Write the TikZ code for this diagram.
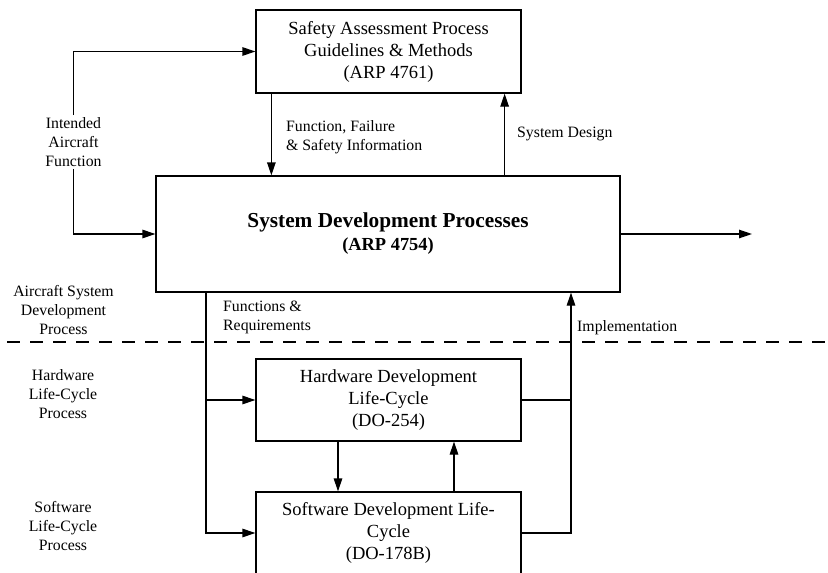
\documentclass[tikz,border=0pt]{standalone}
\usepackage{fontspec}
\setmainfont{Liberation Serif}
\usetikzlibrary{arrows.meta,calc}
\begin{document}
\begin{tikzpicture}[x=1pt,y=-1pt,
  box/.style={draw, line width=1.25pt, align=center, inner sep=0pt,
    font=\fontsize{18.5}{22}\selectfont},
  lbl/.style={align=center, inner sep=2pt, font=\fontsize{15.8}{19}\selectfont},
  llbl/.style={align=left, anchor=west, inner sep=0pt, font=\fontsize{15.8}{19}\selectfont},
  line/.style={line width=1.25pt},
  arr/.style={line width=1.25pt, -{Triangle[length=13pt,width=8.5pt]}},
  sep/.style={line width=2.9pt, dash pattern=on 13pt off 10pt, dash phase=16pt}]
\useasboundingbox (0,0) rectangle (828,573);
% boxes
\node[box, minimum width=265pt, minimum height=83pt] (sa) at (388.5,51.5)
  {Safety Assessment Process\\Guidelines \& Methods\\(ARP 4761)};
\node[box, minimum width=464pt, minimum height=116pt, font=\bfseries\fontsize{18.4}{22}\selectfont] (sys) at (388,234)
  {{\fontsize{21.3}{22}\selectfont System Development Processes}\\[1pt](ARP 4754)};
\node[box, minimum width=265pt, minimum height=82pt] (hw) at (388.5,400)
  {Hardware Development\\Life-Cycle\\(DO-254)};
\node[box, minimum width=265pt, minimum height=82pt] (sw) at (388.5,533)
  {Software Development Life-\\Cycle\\(DO-178B)};
% side labels
\node[lbl] (iaf) at (73.5,142) {Intended\\Aircraft\\Function};
\node[lbl] (asdp) at (63.5,310) {Aircraft System\\Development\\Process};
\node[lbl] (hlcp) at (63,394) {Hardware\\Life-Cycle\\Process};
\node[lbl] (slcp) at (63,526) {Software\\Life-Cycle\\Process};
% connector labels
\node[llbl] (ffs) at (286,137) {Function, Failure\\\& Safety Information};
\node[llbl] (sd) at (517,134) {System Design};
\node[llbl] (fr) at (223,317.5) {Functions \&\\Requirements};
\node[llbl] (impl) at (577,328) {Implementation};
% helper coordinates
\coordinate (frx) at (206,0);
\coordinate (imx) at (571,0);
\coordinate (out) at (752,234);
\coordinate (dl) at (0,342);
\coordinate (dr) at (828,342);
% connectors
\draw[arr] (iaf.north) |- (sa.west);
\draw[arr] (iaf.south) |- (sys.west);
\draw[arr] ([xshift=16pt]sa.south west) -- ([xshift=16pt]sa.south west |- sys.north);
\draw[arr] ([xshift=-116pt]sys.north east) -- ([xshift=-116pt]sys.north east |- sa.south);
\draw[arr] (sys.east) -- (out);
\draw[arr] (sys.south -| frx) |- (sw.west);
\draw[arr] (frx |- hw.west) -- (hw.west);
\draw[arr] (sw.east) -| (imx |- sys.south);
\draw[line] (hw.east) -- (hw.east -| imx);
\draw[arr] ([xshift=-50.5pt]hw.south) -- ([xshift=-50.5pt]hw.south |- sw.north);
\draw[arr] ([xshift=65.5pt]sw.north) -- ([xshift=65.5pt]sw.north |- hw.south);
% separator
\draw[sep] (dl) -- (dr);
\end{tikzpicture}
\end{document}
